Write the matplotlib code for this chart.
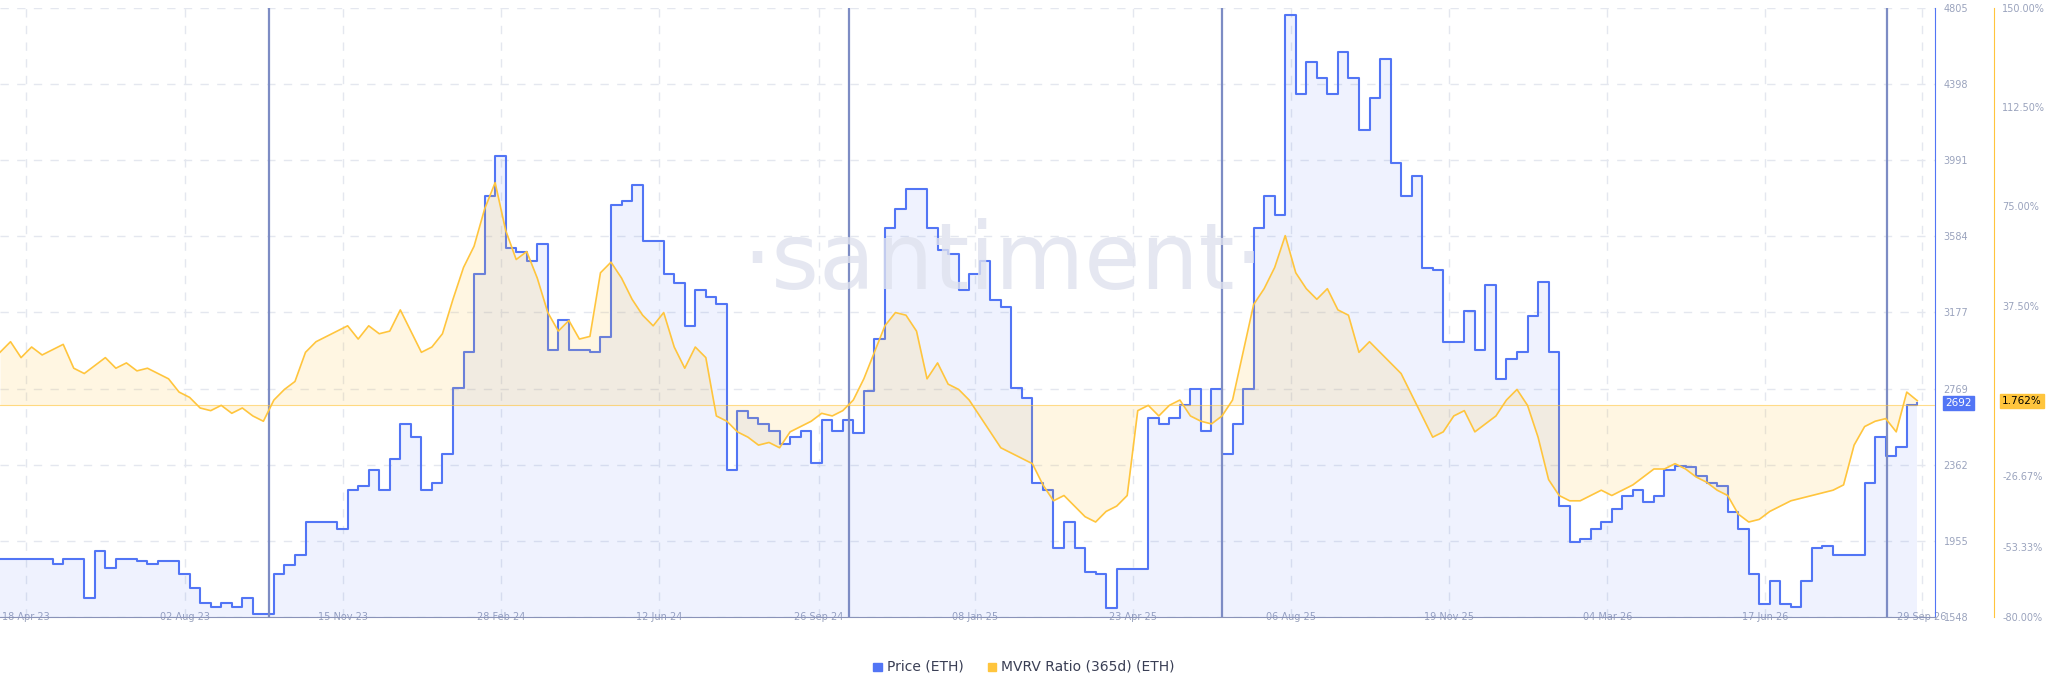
import numpy as np
import pandas as pd
import matplotlib.pyplot as plt
import matplotlib.dates as mdates

# weekly samples
start = "2023-04-01"
price = [1862, 1862, 1862, 1862, 1862, 1835, 1862, 1862,
         1653, 1904, 1813, 1862, 1862, 1848, 1835, 1848, 1848, 1778, 1708, 1625,
         1604, 1625, 1604, 1653, 1569, 1569, 1778, 1830, 1880, 2057, 2057, 2057,
         2022, 2231, 2252, 2336, 2231, 2392, 2580, 2510, 2231, 2266, 2420, 2775,
         2964, 3382, 3800, 4010, 3522, 3500, 3452, 3540, 2978, 3138, 2978, 2978,
         2964, 3047, 3752, 3770, 3856, 3556, 3556, 3382, 3333, 3103, 3298, 3262,
         3222, 2336, 2650, 2615, 2580, 2545, 2475, 2510, 2545, 2371, 2601, 2545,
         2601, 2531, 2755, 3033, 3626, 3731, 3835, 3835, 3626, 3508, 3487, 3298,
         3382, 3452, 3243, 3208, 2775, 2720, 2266, 2231, 1918, 2057, 1918, 1792,
         1778, 1597, 1806, 1806, 1806, 2615, 2580, 2615, 2685, 2768, 2545, 2768,
         2420, 2580, 2768, 3626, 3800, 3695, 4763, 4345, 4512, 4428, 4345, 4568,
         4428, 4149, 4324, 4533, 3975, 3800, 3905, 3417, 3403, 3019, 3019, 3186,
         2978, 3326, 2824, 2929, 2964, 3159, 3342, 2964, 2141, 1952, 1966, 2022,
         2057, 2127, 2197, 2231, 2162, 2197, 2336, 2357, 2350, 2301, 2266, 2252,
         2113, 2022, 1778, 1618, 1743, 1618, 1604, 1743, 1918, 1932, 1883, 1883,
         1883, 2266, 2510, 2411, 2461, 2685, 2692]
mvrv = [20, 24, 18, 22, 19, 21, 23, 14,
        12, 15, 18, 14, 16, 13, 14, 12, 10, 5, 3, -1,
        -2, 0, -3, -1, -4, -6, 2, 6, 9, 20, 24, 26,
        28, 30, 25, 30, 27, 28, 36, 28, 20, 22, 27, 40,
        52, 60, 74, 84, 66, 55, 58, 48, 35, 28, 32, 25,
        26, 50, 54, 48, 40, 34, 30, 35, 22, 14, 22, 18,
        -4, -6, -10, -12, -15, -14, -16, -10, -8, -6, -3, -4,
        -2, 2, 10, 20, 30, 35, 34, 28, 10, 16, 8, 6,
        2, -4, -10, -16, -18, -20, -22, -30, -36, -34, -38, -42,
        -44, -40, -38, -34, -2, 0, -4, 0, 2, -4, -6, -7,
        -4, 2, 20, 38, 44, 52, 64, 50, 44, 40, 44, 36,
        34, 20, 24, 20, 16, 12, 4, -4, -12, -10, -4, -2,
        -10, -7, -4, 2, 6, 0, -12, -28, -34, -36, -36, -34,
        -32, -34, -32, -30, -27, -24, -24, -22, -24, -27, -29, -32,
        -34, -41, -44, -43, -40, -38, -36, -35, -34, -33, -32, -30,
        -15, -8, -6, -5, -10, 5, 1.762]
tick_dates = ["2023-04-18", "2023-08-02", "2023-11-15", "2024-02-28", "2024-06-12",
              "2024-09-26", "2025-01-08", "2025-04-23", "2025-08-06", "2025-11-19",
              "2026-03-04", "2026-06-17", "2026-09-29"]
tick_labels = ["18 Apr 23", "02 Aug 23", "15 Nov 23", "28 Feb 24", "12 Jun 24",
               "26 Sep 24", "08 Jan 25", "23 Apr 25", "06 Aug 25", "19 Nov 25",
               "04 Mar 26", "17 Jun 26", "29 Sep 26"]
event_dates = ["2023-09-27", "2024-10-16", "2025-06-21", "2026-09-06"]
price_ticks = [1548, 1955, 2362, 2769, 3177, 3584, 3991, 4398, 4805]
mvrv_ticks = [-80, -53.33, -26.67, 37.5, 75, 112.5, 150]
mvrv_tick_labels = ["-80.00%", "-53.33%", "-26.67%", "37.50%", "75.00%", "112.50%", "150.00%"]

dates = pd.date_range(start, periods=len(price), freq="7D")
BLUE = "#5275f5"
YELLOW = "#ffc53d"
GRAY = "#9aa3bd"

fig = plt.figure(figsize=(20.48, 6.93), dpi=100)
ax = fig.add_axes([0.0, 0.109, 0.945, 0.880])
ax2 = ax.twinx()

# price, step line with light fill
ax.step(dates, price, where="post", color=BLUE, lw=1.5, zorder=4)
ax.fill_between(dates, price, 1548, step="post", color=BLUE, alpha=0.09, lw=0, zorder=2)
ax.set_ylim(1548, 4805)
ax.set_xlim(pd.Timestamp("2023-04-01"), pd.Timestamp("2026-10-08"))

# mvrv line and fill to zero
ax2.plot(dates, mvrv, color=YELLOW, lw=1.2, zorder=5)
ax2.fill_between(dates, mvrv, 0, color=YELLOW, alpha=0.15, lw=0)
ax2.axhline(0, color=YELLOW, lw=0.8, alpha=0.6)
ax2.set_ylim(-80, 150)

for d in event_dates:
    ax.axvline(pd.Timestamp(d), color="#7d8cc4", lw=1.6, zorder=6)

ax.set_xticks(pd.to_datetime(tick_dates))
ax.set_xticklabels(tick_labels)
ax.set_yticks(price_ticks)
ax.grid(True, color="#e4e7ef", ls=(0, (6, 6)), lw=1)
ax.tick_params(axis="x", colors=GRAY, labelsize=7, length=0, pad=-4)
ax.yaxis.tick_right()
ax.tick_params(axis="y", colors=GRAY, labelsize=7, length=0, pad=6)
for s in ["top", "left"]:
    ax.spines[s].set_visible(False)
ax.spines["bottom"].set_color("#8a93b8")
ax.spines["right"].set_color(BLUE)

ax2.set_yticks(mvrv_ticks)
ax2.set_yticklabels(mvrv_tick_labels)
ax2.tick_params(axis="y", colors=GRAY, labelsize=7, length=0, pad=6)
ax2.spines["right"].set_position(("outward", 42))
ax2.spines["right"].set_color(YELLOW)
for s in ["top", "left", "bottom"]:
    ax2.spines[s].set_visible(False)

# last value badges
ax.annotate("2692", xy=(1, 2692), xycoords=("axes fraction", "data"), xytext=(7, 0),
            textcoords="offset points", va="center", ha="left", fontsize=7.5, color="white",
            bbox=dict(boxstyle="square,pad=0.2", fc=BLUE, ec=BLUE))
ax2.annotate("1.762%", xy=(1, 1.762), xycoords=("axes fraction", "data"), xytext=(48, 0),
             textcoords="offset points", va="center", ha="left", fontsize=7.5, color="black",
             bbox=dict(boxstyle="square,pad=0.2", fc=YELLOW, ec=YELLOW))

fig.text(0.49, 0.62, "·santiment·", fontsize=66, color="#dfe2ee", ha="center", va="center",
         zorder=0, alpha=0.8)

# legend
fig.patches.append(plt.Rectangle((0.4265, 0.032), 0.004, 0.012, transform=fig.transFigure, color=BLUE))
fig.text(0.433, 0.038, "Price (ETH)", fontsize=10, color="#3a3f55", va="center")
fig.patches.append(plt.Rectangle((0.4825, 0.032), 0.004, 0.012, transform=fig.transFigure, color=YELLOW))
fig.text(0.489, 0.038, "MVRV Ratio (365d) (ETH)", fontsize=10, color="#3a3f55", va="center")

fig.savefig("out.png", dpi=100)
